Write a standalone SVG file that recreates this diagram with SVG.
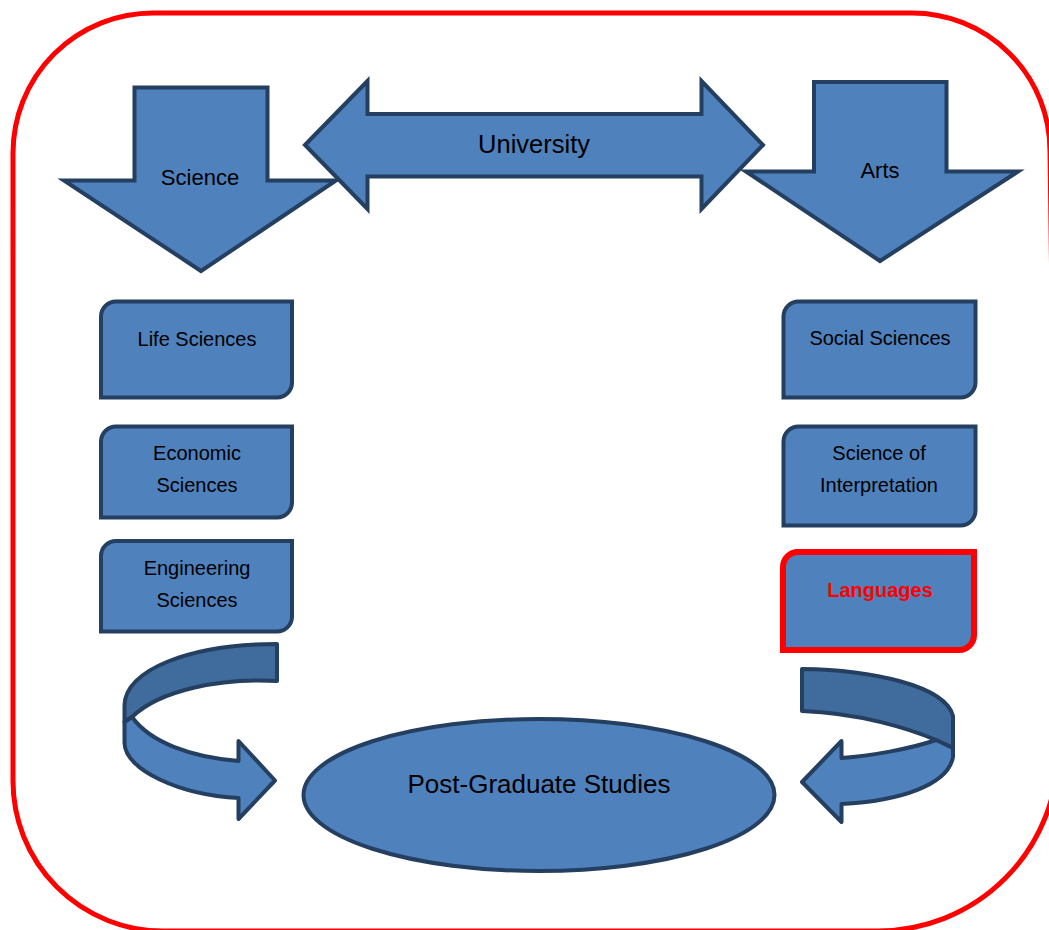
<svg xmlns="http://www.w3.org/2000/svg" width="1049" height="930" viewBox="0 0 1049 930">
<style>
.shape{fill:#4F81BD;stroke:#243F60;stroke-width:4;stroke-linejoin:miter}
.back{fill:#3F6B9D;stroke:#243F60;stroke-width:4;stroke-linejoin:round}
.front{fill:#4F81BD;stroke:#243F60;stroke-width:4;stroke-linejoin:round}
.t{font-family:"Liberation Sans",Arial,sans-serif;fill:#000;text-anchor:middle}
.box{font-size:20px}
</style>
<rect width="1049" height="930" fill="#fff"/>
<g id="science">
<polygon class="shape" points="134.5,87.5 267.5,87.5 267.5,180.5 336,180.5 201,271 64,180.5 134.5,180.5"/>
<text class="t" x="200" y="185" font-size="22">Science</text>
</g>
<g id="arts">
<polygon class="shape" points="814,82 946.5,82 946.5,171.5 1018,171.5 880,261 746,171.5 814,171.5"/>
<text class="t" x="880" y="178" font-size="22">Arts</text>
</g>
<g id="university">
<polygon class="shape" points="305,145 367.5,81 367.5,114 701.5,114 701.5,81 763,145 701.5,209 701.5,176.5 367.5,176.5 367.5,209"/>
<text class="t" x="534" y="153" font-size="25.5">University</text>
</g>
<g id="life-sciences">
<path class="shape" d="M101,316.5 A15,15 0 0 1 116,301.5 L292,301.5 L292,382.5 A15,15 0 0 1 277,397.5 L101,397.5 Z"/>
<text class="t box" x="197" y="346">Life Sciences</text>
</g>
<g id="economic-sciences">
<path class="shape" d="M101,441.5 A15,15 0 0 1 116,426.5 L292,426.5 L292,502.5 A15,15 0 0 1 277,517.5 L101,517.5 Z"/>
<text class="t box" x="197" y="460">Economic</text>
<text class="t box" x="197" y="492">Sciences</text>
</g>
<g id="engineering-sciences">
<path class="shape" d="M101,556 A15,15 0 0 1 116,541 L292,541 L292,616.5 A15,15 0 0 1 277,631.5 L101,631.5 Z"/>
<text class="t box" x="197" y="575">Engineering</text>
<text class="t box" x="197" y="607">Sciences</text>
</g>
<g id="social-sciences">
<path class="shape" d="M783.5,316.5 A15,15 0 0 1 798.5,301.5 L975.5,301.5 L975.5,382.5 A15,15 0 0 1 960.5,397.5 L783.5,397.5 Z"/>
<text class="t box" x="880" y="345">Social Sciences</text>
</g>
<g id="science-of-interpretation">
<path class="shape" d="M783.5,441.5 A15,15 0 0 1 798.5,426.5 L975.5,426.5 L975.5,510.5 A15,15 0 0 1 960.5,525.5 L783.5,525.5 Z"/>
<text class="t box" x="879" y="460">Science of</text>
<text class="t box" x="879" y="492">Interpretation</text>
</g>
<g id="languages">
<path d="M783,567 A15,15 0 0 1 798,552 L974,552 L974,635 A15,15 0 0 1 959,650 L783,650 Z" fill="#4F81BD" stroke="#FF0000" stroke-width="6"/>
<text class="t box" x="880" y="597" font-weight="bold" style="fill:#FF0000">Languages</text>
</g>
<g id="connectors">
<path class="back" d="M277,644 L277,681 C220,678 160,690 132,717 L124.5,722 L124.5,706 C124,670 190,644 277,644 Z"/>
<path class="front" d="M124.5,722 L124.5,743 C125,770 180,795 238.5,798 L238.5,819 L275,780.5 L238.5,741 L238.5,761 C190,757 150,742 132,717 Z"/>
<path class="back" d="M802,669 C870,670 945,685 953,716 L953,748 L936,740 C910,729 860,713 802,711 Z"/>
<path class="front" d="M936,740 C910,749 870,756 841.5,758 L841.5,741 L802,782 L841.5,822 L841.5,804 C900,801 948,785 953,757 L953,748 Z"/>
</g>
<g id="post-graduate-studies">
<ellipse class="shape" cx="539" cy="795" rx="235.5" ry="76"/>
<text class="t" x="539" y="793" font-size="26">Post-Graduate Studies</text>
</g>
<g id="frame">
<path d="M13,153 A140,140 0 0 1 153,13 L912,13 A138,138 0 0 1 1050,151 L1058,751 A180,180 0 0 1 878,931 L163,931 A150,150 0 0 1 13,781 Z" fill="none" stroke="#FF0000" stroke-width="5"/>
</g>
</svg>
